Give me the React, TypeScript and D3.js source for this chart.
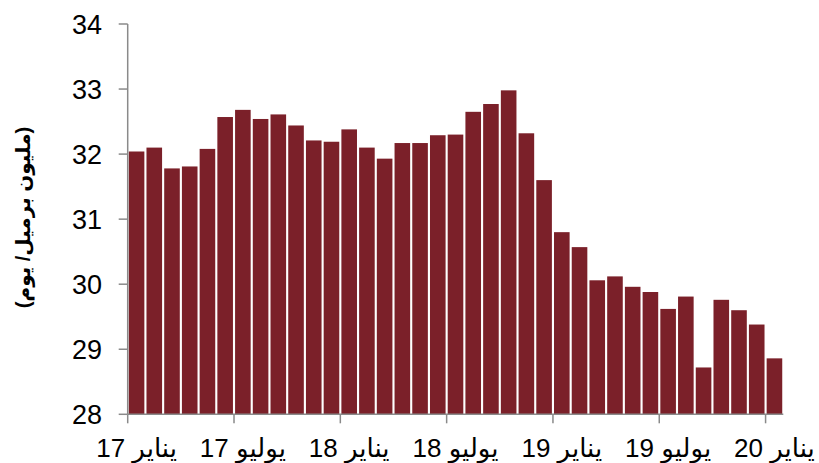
import React from "react";
import * as d3 from "d3";

const months: string[] = [
  "2017-01","2017-02","2017-03","2017-04","2017-05","2017-06","2017-07","2017-08","2017-09","2017-10","2017-11","2017-12",
  "2018-01","2018-02","2018-03","2018-04","2018-05","2018-06","2018-07","2018-08","2018-09","2018-10","2018-11","2018-12",
  "2019-01","2019-02","2019-03","2019-04","2019-05","2019-06","2019-07","2019-08","2019-09","2019-10","2019-11","2019-12",
  "2020-01",
];
const production: number[] = [
  32.04, 32.10, 31.78, 31.81, 32.08, 32.57, 32.68, 32.54, 32.61, 32.44, 32.21, 32.19,
  32.38, 32.10, 31.93, 32.17, 32.17, 32.29, 32.30, 32.65, 32.77, 32.98, 32.32, 31.60,
  30.80, 30.57, 30.06, 30.12, 29.96, 29.88, 29.62, 29.81, 28.72, 29.76, 29.60, 29.38,
  28.86,
];
const tickMonths: string[] = ["2017-01","2017-07","2018-01","2018-07","2019-01","2019-07","2020-01"];
const tickLabels: string[] = ["يناير 17","يوليو 17","يناير 18","يوليو 18","يناير 19","يوليو 19","يناير 20"];
const yTicks: number[] = [28, 29, 30, 31, 32, 33, 34];
const yTitle = "(مليون برميل/ يوم)";

export default function App() {
  const W = 819, H = 463;
  const left = 127.7, right = 783.3, top = 24, bottom = 414.3;
  const x = d3.scaleBand<string>().domain(months).range([left, right]).paddingInner(0.12).paddingOuter(0.06);
  const xb = d3.scaleBand<string>().domain(months).range([left, right]);
  const y = d3.scaleLinear().domain([28, 34]).range([bottom, top]);
  const axisColor = "#8a8a8a";
  const font = "Arial, 'Liberation Sans', 'DejaVu Sans', sans-serif";
  return (
    <svg width={W} height={H} style={{ position: "absolute", left: 0, top: 0, background: "#fff" }} fontFamily={font}>
      {months.map((m, i) => (
        <rect key={m} x={x(m)} y={y(production[i])} width={x.bandwidth()} height={bottom - y(production[i])} fill="#7b2029" />
      ))}
      <line x1={left} x2={left} y1={top} y2={bottom} stroke={axisColor} strokeWidth={1.5} />
      <line x1={left} x2={right} y1={bottom} y2={bottom} stroke={axisColor} strokeWidth={1.5} />
      {yTicks.map((t) => (
        <g key={t}>
          <line x1={left - 9} x2={left} y1={y(t)} y2={y(t)} stroke={axisColor} strokeWidth={1.5} />
          <text x={102} y={y(t)} dy="0.36em" textAnchor="end" fontSize={27} fill="#000">{t}</text>
        </g>
      ))}
      {tickMonths.map((m, i) => (
        <g key={m}>
          <line x1={xb(m)} x2={xb(m)} y1={bottom} y2={bottom + 9} stroke={axisColor} strokeWidth={1.5} />
          <text x={(xb(m) as number) + xb.bandwidth() / 2} y={457} textAnchor="middle" fontSize={26} fill="#000" direction="rtl">{tickLabels[i]}</text>
        </g>
      ))}
      <text transform={`translate(23, ${(123 + 312) / 2}) rotate(-90)`} textAnchor="middle" dy="0.35em" fontSize={20} fontWeight="bold" fill="#000" direction="rtl">{yTitle}</text>
    </svg>
  );
}
